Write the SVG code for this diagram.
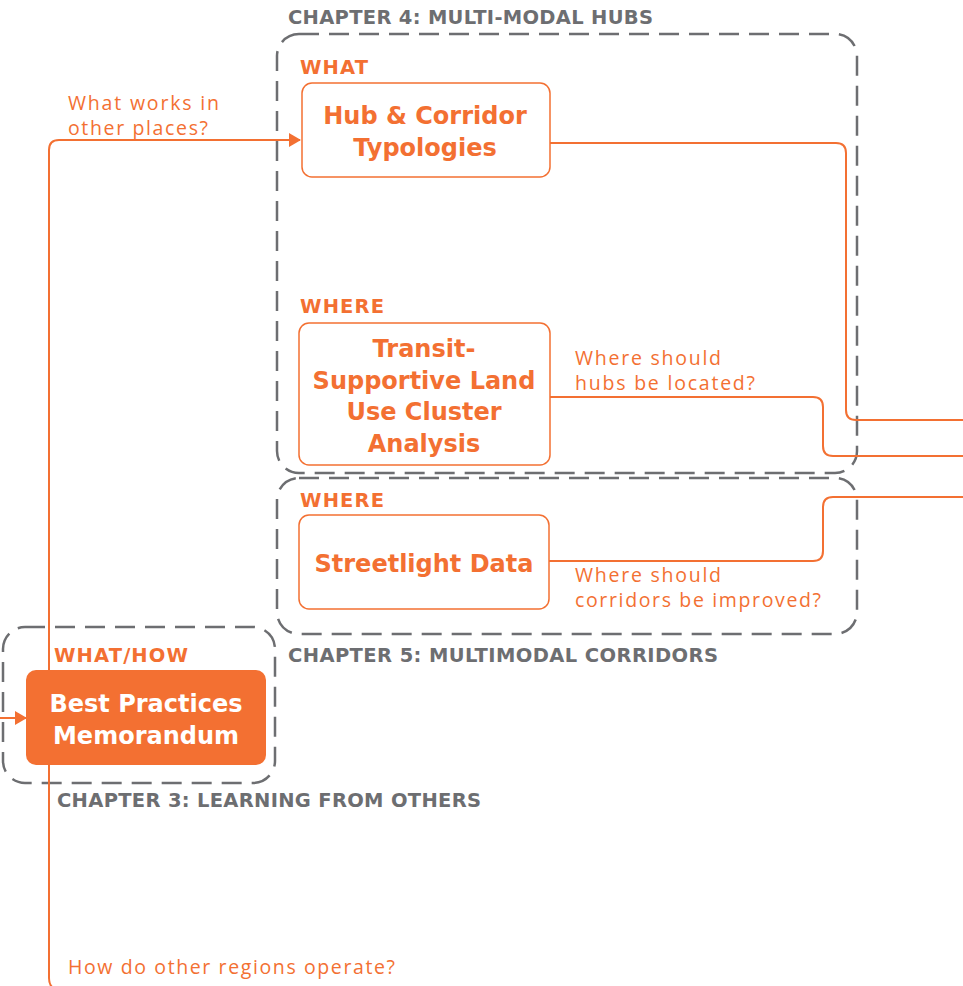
<svg xmlns="http://www.w3.org/2000/svg" width="963" height="986" viewBox="0 0 963 986">
<defs>
<style>
.chap{fill:none;stroke:#6d6e71;stroke-width:2.5;stroke-dasharray:20 10}
.node{fill:#fff;stroke:#f37032;stroke-width:1.5}
.fill{fill:#f37032;stroke:none}
.conn{fill:none;stroke:#f37032;stroke-width:2}
.ct{font-family:"DejaVu Sans","Liberation Sans",sans-serif;font-weight:bold;font-size:19.5px;fill:#6d6e71}
.lab{font-family:"DejaVu Sans","Liberation Sans",sans-serif;font-weight:bold;font-size:19.5px;fill:#f37032}
.nt{font-family:"DejaVu Sans","Liberation Sans",sans-serif;font-weight:bold;font-size:24px;fill:#f37032;text-anchor:middle}
.nw{fill:#fff}
.q{font-family:"Open Sans","Liberation Sans",sans-serif;font-weight:400;font-size:19.5px;fill:#f37032}
</style>
<marker id="arr" markerWidth="12" markerHeight="14" refX="11" refY="7" orient="auto" markerUnits="userSpaceOnUse">
<path d="M0,0 L12,7 L0,14 Z" fill="#f37032"/>
</marker>
</defs>
<rect width="963" height="986" fill="#fff"/>

<g id="chapters">
<rect id="chapter4" class="chap" x="277" y="34" width="580" height="439" rx="22"/>
<rect id="chapter5" class="chap" x="277" y="478" width="580" height="156" rx="22"/>
<rect id="chapter3" class="chap" x="3" y="627" width="272" height="156" rx="22"/>
<text class="ct" x="288" y="24" textLength="365">CHAPTER 4: MULTI-MODAL HUBS</text>
<text class="ct" x="288" y="662" textLength="430">CHAPTER 5: MULTIMODAL CORRIDORS</text>
<text class="ct" x="57" y="807" textLength="424">CHAPTER 3: LEARNING FROM OTHERS</text>
</g>

<g id="connectors">
<path class="conn" d="M963,990 L61,990 Q49,990 49,978 L49,150 Q49,140 59,140 L300,140" marker-end="url(#arr)"/>
<path class="conn" d="M0,718 L26,718" marker-end="url(#arr)"/>
<path class="conn" d="M550,143 L836,143 Q846,143 846,153 L846,410 Q846,420 856,420 L963,420"/>
<path class="conn" d="M550,397 L813,397 Q823,397 823,407 L823,446 Q823,456 833,456 L963,456"/>
<path class="conn" d="M549,561 L813,561 Q823,561 823,551 L823,507 Q823,497 833,497 L963,497"/>
<text class="q" x="68" y="110" textLength="151">What works in</text>
<text class="q" x="68" y="135" textLength="140">other places?</text>
<text class="q" x="68" y="974" textLength="327">How do other regions operate?</text>
<text class="q" x="575" y="365" textLength="146">Where should</text>
<text class="q" x="575" y="390" textLength="180">hubs be located?</text>
<text class="q" x="575" y="582" textLength="146">Where should</text>
<text class="q" x="575" y="607" textLength="246">corridors be improved?</text>
</g>

<g id="hub-typologies">
<text class="lab" x="300" y="74" textLength="68">WHAT</text>
<rect class="node" x="302" y="83" width="248" height="94" rx="10"/>
<text class="nt" x="425" y="124">Hub &amp; Corridor</text>
<text class="nt" x="425" y="156">Typologies</text>
</g>

<g id="land-use-cluster">
<text class="lab" x="300" y="313" textLength="84">WHERE</text>
<rect class="node" x="299" y="323" width="251" height="142" rx="10"/>
<text class="nt" x="424" y="357">Transit-</text>
<text class="nt" x="424" y="389">Supportive Land</text>
<text class="nt" x="424" y="420">Use Cluster</text>
<text class="nt" x="424" y="452">Analysis</text>
</g>

<g id="streetlight">
<text class="lab" x="300" y="507" textLength="84">WHERE</text>
<rect class="node" x="299" y="515" width="250" height="94" rx="10"/>
<text class="nt" x="424" y="572">Streetlight Data</text>
</g>

<g id="best-practices">
<text class="lab" x="54" y="662" textLength="134">WHAT/HOW</text>
<rect class="fill" x="26" y="670" width="240" height="95" rx="10"/>
<text class="nt nw" x="146" y="712">Best Practices</text>
<text class="nt nw" x="146" y="744">Memorandum</text>
</g>
</svg>
